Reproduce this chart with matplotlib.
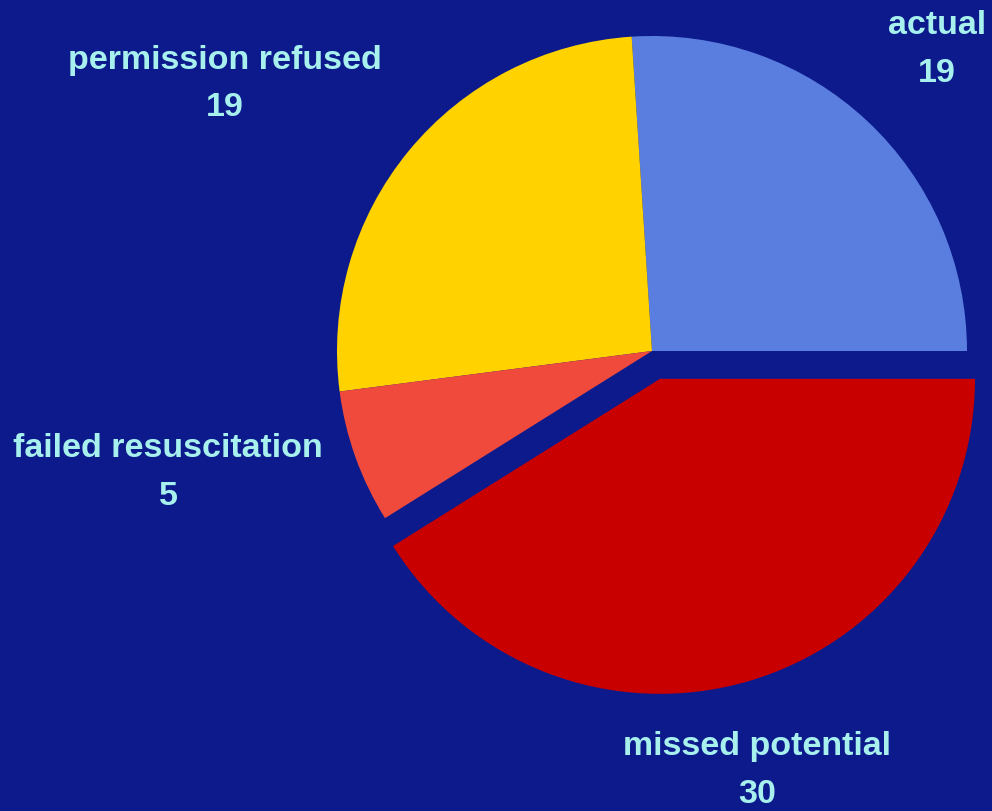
import matplotlib
matplotlib.use("Agg")
import matplotlib.pyplot as plt

categories = ["actual", "permission refused", "failed resuscitation", "missed potential"]
values = [19, 19, 5, 30]
colors = ["#5a7ee0", "#ffd200", "#f04a3c", "#c80000"]

BG = "#0c1a8c"
TXT = "#a8f0ee"

W, H = 992, 812
fig = plt.figure(figsize=(W / 100, H / 100), dpi=100, facecolor=BG)
ax = fig.add_axes([0, 0, 1, 1])
ax.set_facecolor(BG)

cx, cy, r = 652, H - 352, 315
explode = [0, 0, 0, 0.092 * r]  # pie's explode is in data units
ax.pie(values, colors=colors, explode=explode, startangle=0, counterclock=True,
       center=(cx, cy), radius=r, wedgeprops=dict(linewidth=0), frame=True)
ax.set_xlim(0, W)
ax.set_ylim(0, H)
ax.set_aspect("equal")
ax.axis("off")

label_pos = {
    "actual": (937, H - 26),
    "permission refused": (225, H - 60),
    "failed resuscitation": (168, H - 449),
    "missed potential": (757, H - 747),
}
for cat, val in zip(categories, values):
    x, y = label_pos[cat]
    ax.text(x, y, cat, color=TXT, ha="center", va="center", fontsize=24.5,
            fontweight="bold", family="Liberation Sans")
    ax.text(x, y - 48, str(val), color=TXT, ha="center", va="center", fontsize=24.5,
            fontweight="bold", family="Liberation Sans")

fig.savefig("out.png", dpi=100, facecolor=BG)
